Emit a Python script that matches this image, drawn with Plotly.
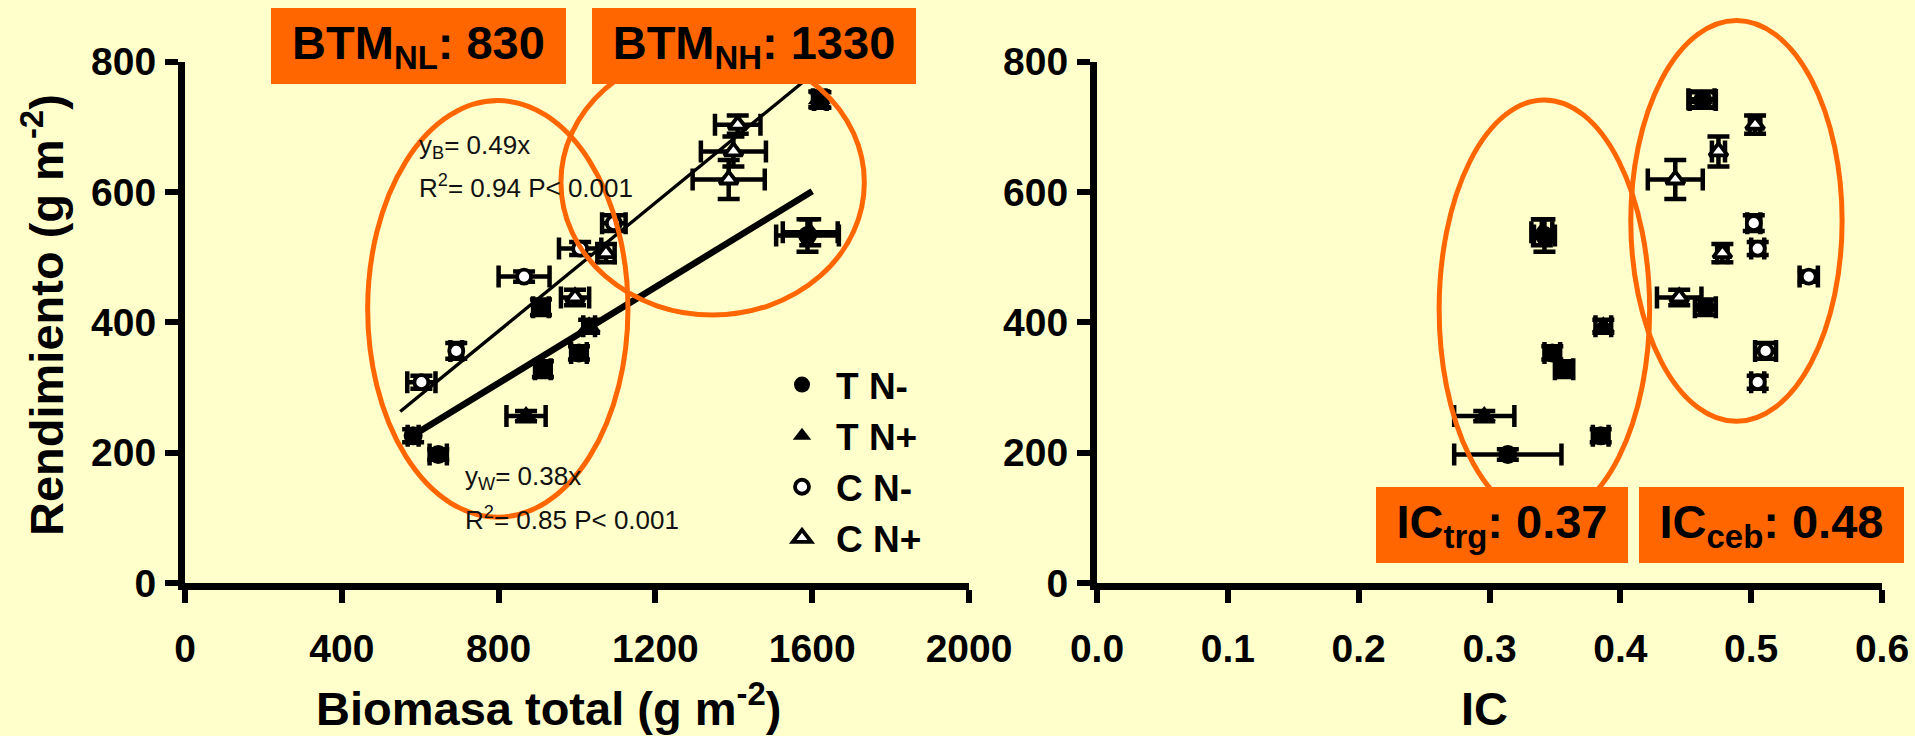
import plotly.graph_objects as go

W, H = 1915, 736
BG = '#FFFFCC'
ORANGE = '#FF6600'
FONT = 'Liberation Sans, Arial, sans-serif'

# ---------------- data ----------------
# T N-  (filled circle)
tnm_biomasa = [582, 646, 913, 1005, 908, 1588, 1621]
tnm_biomasa_err = [14, 22, 20, 20, 20, 80, 16]
tnm_rend = [226, 197, 328, 353, 423, 533, 741]
tnm_rend_err = [10, 8, 12, 10, 12, 25, 12]
tnm_ic = [0.385, 0.314, 0.357, 0.348, 0.465, 0.342, 0.463]
tnm_ic_err = [0.006, 0.041, 0.007, 0.006, 0.008, 0.008, 0.010]

# T N+  (filled triangle)
tnp_biomasa = [870, 1031, 1595, 1618]
tnp_biomasa_err = [50, 15, 70, 16]
tnp_rend = [256, 394, 538, 742]
tnp_rend_err = [8, 10, 20, 12]
tnp_ic = [0.296, 0.387, 0.340, 0.462]
tnp_ic_err = [0.023, 0.006, 0.008, 0.010]

# C N-  (open circle)
cnm_biomasa = [603, 692, 865, 1008, 1094]
cnm_biomasa_err = [36, 15, 65, 54, 30]
cnm_rend = [308, 356, 470, 513, 552]
cnm_rend_err = [10, 12, 8, 10, 12]
cnm_ic = [0.505, 0.511, 0.544, 0.505, 0.502]
cnm_ic_err = [0.005, 0.008, 0.007, 0.005, 0.005]

# C N+  (open triangle)
cnp_biomasa = [995, 1074, 1387, 1399, 1410]
cnp_biomasa_err = [36, 22, 92, 83, 58]
cnp_rend = [438, 506, 619, 662, 703]
cnp_rend_err = [12, 14, 30, 23, 14]
cnp_ic = [0.445, 0.478, 0.442, 0.475, 0.503]
cnp_ic_err = [0.017, 0.004, 0.021, 0.005, 0.004]

# regression lines (end points)
regB_x = [549, 1600]
regB_y = [263, 780]
regW_x = [570, 1600]
regW_y = [222, 601]

# highlight ellipses, in data units [x0, x1, y0, y1]
ell_left_A = [466, 1130, 101, 740]
ell_left_B = [959, 1733, 411, 818]
ell_right_C = [0.2615, 0.4224, 99, 741]
ell_right_D = [0.408, 0.5695, 248, 863]

x1_ticks = [0, 400, 800, 1200, 1600, 2000]
x2_ticks = [0.0, 0.1, 0.2, 0.3, 0.4, 0.5, 0.6]
y_ticks = [0, 200, 400, 600, 800]

# ---------------- layout geometry ----------------
XD1 = [185 / W, 969 / W]
XD2 = [1097 / W, 1882 / W]
YD = [(H - 583) / H, (H - 61.5) / H]
XR1 = [0, 2000]
XR2 = [0, 0.6]
YR = [0, 800]


def to_paper(v, rng, dom):
    return dom[0] + (v - rng[0]) / (rng[1] - rng[0]) * (dom[1] - dom[0])


groups = [
    dict(name='T N-', sym='circle', fill='black', lw=0, size=19,
         bx=tnm_biomasa, bxe=tnm_biomasa_err, y=tnm_rend, ye=tnm_rend_err, ic=tnm_ic, ice=tnm_ic_err),
    dict(name='T N+', sym='triangle-up', fill='black', lw=0, size=20,
         bx=tnp_biomasa, bxe=tnp_biomasa_err, y=tnp_rend, ye=tnp_rend_err, ic=tnp_ic, ice=tnp_ic_err),
    dict(name='C N-', sym='circle', fill='white', lw=3.8, size=14,
         bx=cnm_biomasa, bxe=cnm_biomasa_err, y=cnm_rend, ye=cnm_rend_err, ic=cnm_ic, ice=cnm_ic_err),
    dict(name='C N+', sym='triangle-up', fill='white', lw=3.8, size=16,
         bx=cnp_biomasa, bxe=cnp_biomasa_err, y=cnp_rend, ye=cnp_rend_err, ic=cnp_ic, ice=cnp_ic_err),
]

fig = go.Figure()

# regression lines
fig.add_trace(go.Scatter(x=regB_x, y=regB_y, mode='lines', line=dict(color='black', width=3.3),
                         showlegend=False, hoverinfo='skip', xaxis='x', yaxis='y'))
fig.add_trace(go.Scatter(x=regW_x, y=regW_y, mode='lines', line=dict(color='black', width=6.5),
                         showlegend=False, hoverinfo='skip', xaxis='x', yaxis='y'))

for g in groups:
    mk = dict(symbol=g['sym'], color=g['fill'], size=g['size'],
              line=dict(color='black', width=g['lw']))
    ex = dict(type='data', array=g['bxe'], color='black', thickness=4.5, width=11)
    ey = dict(type='data', array=g['ye'], color='black', thickness=4.5, width=11)
    fig.add_trace(go.Scatter(x=g['bx'], y=g['y'], mode='markers', marker=mk, name=g['name'],
                             error_x=ex, error_y=ey, legendgroup=g['name'], showlegend=True,
                             cliponaxis=False, xaxis='x', yaxis='y'))
    ex2 = dict(type='data', array=g['ice'], color='black', thickness=4.5, width=11)
    fig.add_trace(go.Scatter(x=g['ic'], y=g['y'], mode='markers', marker=mk, name=g['name'],
                             error_x=ex2, error_y=ey, legendgroup=g['name'], showlegend=False,
                             cliponaxis=False, xaxis='x2', yaxis='y2'))

axis_common = dict(showline=True, linecolor='black', linewidth=7, ticks='outside', ticklen=13,
                   tickwidth=6, tickcolor='black', showgrid=False, zeroline=False, automargin=False,
                   tickfont=dict(family=FONT, size=39, color='black', weight='bold'))

fig.update_layout(
    template='none',
    width=W, height=H,
    margin=dict(l=0, r=0, t=0, b=0, pad=0, autoexpand=False),
    paper_bgcolor=BG, plot_bgcolor=BG,
    xaxis=dict(domain=XD1, range=XR1, tickvals=x1_ticks, anchor='y', ticklabelstandoff=12, **axis_common),
    yaxis=dict(domain=YD, range=YR, tickvals=y_ticks, anchor='x', ticklabelstandoff=1, **axis_common),
    xaxis2=dict(domain=XD2, range=XR2, tickvals=x2_ticks, tickformat='.1f', anchor='y2',
                ticklabelstandoff=12, **axis_common),
    yaxis2=dict(domain=YD, range=YR, tickvals=y_ticks, anchor='x2', ticklabelstandoff=1, **axis_common),
    showlegend=True,
    legend=dict(x=768 / W, y=1 - 354 / H, xanchor='left', yanchor='top', bgcolor='rgba(0,0,0,0)',
                font=dict(family=FONT, size=37, color='black', weight='bold'), tracegroupgap=0,
                itemwidth=58, borderwidth=0),
)

# ellipses
shapes = []
for e, rx, dx in [(ell_left_A, XR1, XD1), (ell_left_B, XR1, XD1),
                  (ell_right_C, XR2, XD2), (ell_right_D, XR2, XD2)]:
    shapes.append(dict(type='circle', xref='paper', yref='paper',
                       x0=to_paper(e[0], rx, dx), x1=to_paper(e[1], rx, dx),
                       y0=to_paper(e[2], YR, YD), y1=to_paper(e[3], YR, YD),
                       line=dict(color=ORANGE, width=5), layer='above'))
fig.update_layout(shapes=shapes)

ann = []
# orange boxes
boxes = [
    ('BTM<sub>NL</sub>: 830', 271, 566, 8, 84),
    ('BTM<sub>NH</sub>: 1330', 592, 916, 8, 84),
    ('IC<sub>trg</sub>: 0.37', 1376, 1628, 487, 563),
    ('IC<sub>ceb</sub>: 0.48', 1639, 1904, 487, 563),
]
for txt, bx0, bx1, by0, by1 in boxes:
    ann.append(dict(text=txt, xref='paper', yref='paper', x=(bx0 + bx1) / 2 / W, y=1 - (by0 + by1) / 2 / H,
                    xanchor='center', yanchor='middle', showarrow=False, bgcolor=ORANGE,
                    width=bx1 - bx0, height=by1 - by0, borderpad=0, borderwidth=0,
                    font=dict(family=FONT, size=47, color='black', weight='bold')))

# regression equations
eqs = [
    ('y<sub>B</sub>= 0.49x', 417, 146),
    ('R<sup>2</sup>= 0.94 P&lt; 0.001', 417, 186),
    ('y<sub>W</sub>= 0.38x', 463, 477),
    ('R<sup>2</sup>= 0.85 P&lt; 0.001', 463, 518),
]
for txt, tx, ty in eqs:
    ann.append(dict(text=txt, xref='paper', yref='paper', x=tx / W, y=1 - ty / H, xanchor='left',
                    yanchor='middle', showarrow=False,
                    font=dict(family=FONT, size=26, color='#111111')))

# axis titles
ann.append(dict(text='Rendimiento (g m<sup>-2</sup>)', xref='paper', yref='paper', x=43 / W, y=1 - 315 / H,
                xanchor='center', yanchor='middle', textangle=-90, showarrow=False,
                font=dict(family=FONT, size=47, color='black', weight='bold')))
ann.append(dict(text='Biomasa total (g m<sup>-2</sup>)', xref='paper', yref='paper', x=548 / W, y=1 - 705 / H,
                xanchor='center', yanchor='middle', showarrow=False,
                font=dict(family=FONT, size=47, color='black', weight='bold')))
ann.append(dict(text='IC', xref='paper', yref='paper', x=1484 / W, y=1 - 708 / H,
                xanchor='center', yanchor='middle', showarrow=False,
                font=dict(family=FONT, size=47, color='black', weight='bold')))
fig.update_layout(annotations=ann)

page_fix = ("document.body.style.margin='0';document.body.style.padding='0';"
            "document.body.style.background='#FFFFCC';"
            "document.documentElement.style.background='#FFFFCC';"
            "document.documentElement.style.overflow='hidden';")
fig.write_html('out.html', post_script=page_fix, config={'displayModeBar': False})
